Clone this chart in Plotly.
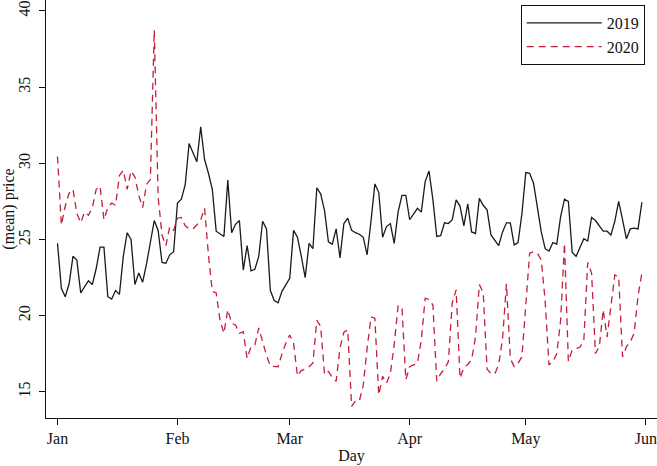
import pandas as pd
import plotly.graph_objects as go

# Day of year (Jan 1 .. May 31), both years plotted on the same calendar axis
days = pd.date_range("2020-01-01", periods=152, freq="D")

price_2019 = [
    24.75, 21.8, 21.25, 22.1, 23.9, 23.65, 21.5, 21.9, 22.3, 22.05,
    23.1, 24.5, 24.5, 21.25, 21.1, 21.65, 21.4, 23.9, 25.45, 25.0,
    22.05, 22.8, 22.2, 23.4, 24.9, 26.25, 25.6, 23.5, 23.45, 24.0,
    24.2, 27.4, 27.65, 28.6, 31.3, 30.7, 30.1, 32.4, 30.25, 29.35,
    28.3, 25.55, 25.4, 25.2, 28.9, 25.45, 26.0, 26.25, 23.0, 24.6,
    22.95, 23.05, 23.9, 26.2, 25.7, 21.65, 21.0, 20.85, 21.6, 22.0,
    22.45, 25.6, 25.15, 23.9, 22.5, 24.75, 24.4, 28.4, 28.0, 26.9,
    24.85, 24.7, 25.7, 23.8, 26.05, 26.4, 25.6, 25.45, 25.35, 25.15,
    24.0, 26.2, 28.65, 28.1, 25.15, 25.85, 26.05, 24.75, 26.8, 27.9,
    27.9, 26.3, 26.7, 27.05, 26.8, 28.8, 29.5, 27.6, 25.2, 25.25,
    26.1, 26.05, 26.3, 27.6, 27.2, 25.9, 27.35, 25.5, 25.4, 27.7,
    27.25, 26.95, 25.3, 24.95, 24.6, 25.5, 26.1, 26.1, 24.65, 24.8,
    26.7, 29.4, 29.35, 28.7, 26.95, 25.5, 24.4, 24.25, 24.8, 24.7,
    26.5, 27.65, 27.5, 24.15, 23.9, 24.5, 25.05, 24.9, 26.45, 26.25,
    25.9, 25.55, 25.55, 25.3, 26.2, 27.5, 26.3, 25.05, 25.7, 25.75,
    25.7, 27.45,
]

price_2020 = [
    30.45, 25.95, 27.2, 28.05, 28.3, 26.7, 26.1, 26.8, 26.6, 27.1,
    28.3, 28.5, 26.3, 27.1, 27.4, 27.25, 29.2, 29.55, 28.3, 29.5,
    29.1, 27.9, 27.1, 28.6, 28.95, 38.75, 27.8, 25.3, 24.6, 25.85,
    25.6, 26.4, 26.45, 25.9, 25.7, 25.7, 25.95, 26.3, 27.05, 24.0,
    21.6, 21.5, 19.7, 18.85, 20.4, 19.5, 19.4, 18.85, 18.95, 17.2,
    17.97, 18.08, 19.2, 18.3, 17.4, 16.7, 16.66, 16.65, 17.5, 18.2,
    18.74, 18.2, 16.05, 16.4, 16.5, 16.66, 16.9, 19.7, 19.3, 16.15,
    16.35, 15.95, 15.7, 17.9, 18.92, 19.07, 14.05, 14.42, 14.42, 15.43,
    17.86, 19.92, 19.84, 14.8, 16.02, 15.57, 16.2, 18.1, 20.64, 20.6,
    15.8, 16.66, 16.77, 16.88, 18.4, 21.15, 21.08, 20.7, 15.7, 16.2,
    16.5, 17.0, 20.85, 21.7, 15.9, 16.6, 16.8, 17.12, 18.6, 22.05,
    21.5, 16.5, 16.2, 16.2, 16.8, 18.5, 22.1, 17.2, 16.66, 16.88,
    17.3, 20.4, 24.1, 24.2, 24.1, 23.66, 21.0, 16.77, 17.0, 17.5,
    19.7, 24.75, 17.0, 17.76, 17.86, 17.93, 18.4, 23.5, 22.8, 17.53,
    17.97, 20.4, 18.6, 20.8, 22.68, 22.57, 17.3, 17.97, 18.3, 18.85,
    21.3, 22.8,
]

y_ticks = [15, 20, 25, 30, 35, 40]
month_ticks = ["2020-01-01", "2020-02-01", "2020-03-01", "2020-04-01", "2020-05-01", "2020-06-01"]
month_labels = ["Jan", "Feb", "Mar", "Apr", "May", "Jun"]

FONT = "Liberation Serif, Times New Roman, serif"

fig = go.Figure()
fig.add_trace(go.Scatter(
    x=days, y=price_2019, mode="lines", name="2019",
    line=dict(color="#1a1a1a", width=1.3),
))
fig.add_trace(go.Scatter(
    x=days, y=price_2020, mode="lines", name="2020",
    line=dict(color="#c41f3a", width=1.3, dash="7px,5px"),
))

fig.update_layout(
    width=657, height=466,
    margin=dict(l=46, r=0, t=0, b=48),
    paper_bgcolor="white", plot_bgcolor="white",
    font=dict(family=FONT, size=16, color="#111"),
    showlegend=True,
    legend=dict(
        x=0.777, y=0.988, xanchor="left", yanchor="top",
        bgcolor="white", bordercolor="#111", borderwidth=1,
        font=dict(family=FONT, size=16, color="#111"),
        itemwidth=75, entrywidth=130, tracegroupgap=0,
    ),
    xaxis=dict(
        range=["2019-12-29 00:40", "2020-06-03 21:40"],
        tickvals=month_ticks, ticktext=month_labels,
        automargin=False,
        showgrid=False, zeroline=False,
        showline=True, linecolor="#111", linewidth=1.3,
        ticks="outside", ticklen=6, tickwidth=1.3, tickcolor="#111",
        title=dict(text="Day", standoff=2, font=dict(family=FONT, size=16)),
    ),
    yaxis=dict(
        range=[13.29, 40.72],
        tickvals=y_ticks,
        tickangle=-90,
        automargin=False,
        ticklabelstandoff=2,
        showgrid=False, zeroline=False,
        showline=True, linecolor="#111", linewidth=1.3,
        ticks="outside", ticklen=6, tickwidth=1.3, tickcolor="#111",
        title=dict(text="(mean) price", standoff=0, font=dict(family=FONT, size=16)),
    ),
)

fig.write_html(
    "out.html",
    config={"displayModeBar": False},
    post_script="document.body.style.margin='0';document.body.style.overflow='hidden';",
)
